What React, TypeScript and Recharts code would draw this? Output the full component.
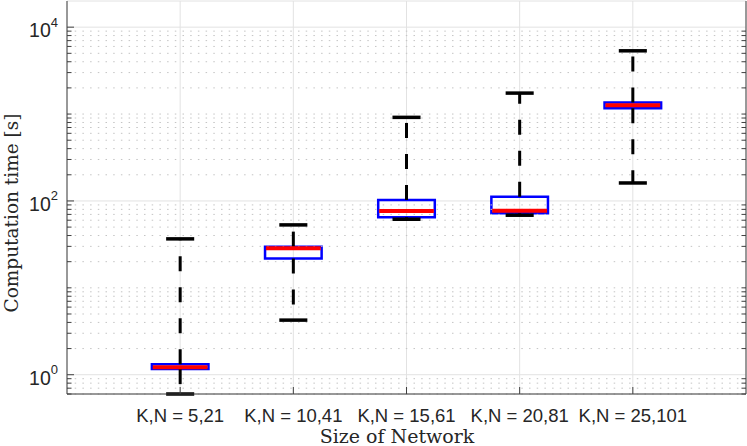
import { CartesianGrid, ComposedChart, ReferenceArea, ReferenceLine, XAxis, YAxis } from "recharts";

const categories = ["K,N = 5,21", "K,N = 10,41", "K,N = 15,61", "K,N = 20,81", "K,N = 25,101"];
const whiskerLow = [0.6, 4.25, 61.6, 68.5, 161];
const q1 = [1.16, 21.7, 65, 72, 1163];
const median = [1.22, 28.6, 76.7, 77.3, 1259];
const q3 = [1.32, 29.8, 102.6, 112, 1362];
const whiskerHigh = [36.6, 53, 916, 1742, 5343];

const majorTicks = [1, 100, 10000];
const decades = [0.1, 1, 10, 100, 1000];
const multipliers = [1, 2, 3, 4, 5, 6, 7, 8, 9];

const yDomain = [0.6, 20000];
const positions = categories.map((_, i) => i + 1);

const minorTicks: number[] = [];
decades.forEach((d) =>
  multipliers.forEach((m) => {
    const v = +(d * m).toPrecision(3);
    if (v >= yDomain[0] && v <= yDomain[1] && !majorTicks.includes(v)) minorTicks.push(v);
  })
);

const data = categories.map((name, i) => ({
  x: positions[i],
  name,
  lo: whiskerLow[i],
  q1: q1[i],
  med: median[i],
  q3: q3[i],
  hi: whiskerHigh[i],
}));

const AXIS = "#404040";
const TEXT = "#262626";
const BOX_HALF = 0.25;
const CAP_HALF = 0.124;
const MINOR_LEN = 0.04;

function YTick(props: any) {
  const { x, y, payload } = props;
  const exp = Math.round(Math.log10(payload.value));
  return (
    <text x={x} y={y + 10} textAnchor="end" fill={TEXT} fontSize={19.5} fontFamily="Liberation Sans, Arial, sans-serif">
      10
      <tspan dy={-10.5} fontSize={13}>
        {exp}
      </tspan>
    </text>
  );
}

function YLabel() {
  return (
    <text
      transform="translate(18,213) rotate(-90)"
      textAnchor="middle"
      fill={TEXT}
      fontSize={18.5}
      fontFamily="DejaVu Serif, serif"
    >
      Computation time [s]
    </text>
  );
}

function XLabel() {
  return (
    <text x={397} y={443} textAnchor="middle" fill={TEXT} fontSize={19} fontFamily="DejaVu Serif, serif">
      Size of Network
    </text>
  );
}

export default function App() {
  return (
    <div style={{ position: "absolute", left: 0, top: 0, width: 747, height: 446, background: "#fff" }}>
      <ComposedChart width={747} height={446} data={data} margin={{ top: 1, right: 0, bottom: 0, left: 0 }}>
        <CartesianGrid stroke="#e2e2e2" strokeWidth={1} />
        <XAxis
          dataKey="x"
          type="number"
          domain={[0, 6]}
          ticks={positions}
          tickFormatter={(v: number) => categories[v - 1] ?? ""}
          allowDataOverflow
          height={52}
          tickSize={-7}
          tickMargin={22}
          stroke={AXIS}
          tick={{ fill: TEXT, fontSize: 18.5, fontFamily: "Liberation Sans, Arial, sans-serif" }}
          label={<XLabel />}
        />
        <XAxis
          xAxisId="t"
          orientation="top"
          type="number"
          domain={[0, 6]}
          ticks={positions}
          allowDataOverflow
          height={0}
          tickSize={-7}
          tick={false}
          stroke={AXIS}
        />
        <YAxis
          scale="log"
          type="number"
          domain={yDomain}
          allowDataOverflow
          ticks={majorTicks}
          width={67}
          tickSize={-7}
          tickMargin={16}
          stroke={AXIS}
          tick={<YTick />}
          label={<YLabel />}
        />
        <YAxis
          yAxisId="r"
          orientation="right"
          scale="log"
          type="number"
          domain={yDomain}
          allowDataOverflow
          ticks={majorTicks}
          width={1}
          tickSize={-7}
          tick={false}
          stroke={AXIS}
        />

        {minorTicks.map((v) => (
          <ReferenceLine key={`g${v}`} y={v} stroke="#c4c4c4" strokeWidth={1} strokeDasharray="1.5 6.2" />
        ))}
        {minorTicks.map((v) => (
          <ReferenceLine
            key={`ml${v}`}
            segment={[
              { x: 0, y: v },
              { x: MINOR_LEN, y: v },
            ]}
            stroke={AXIS}
            strokeWidth={1}
          />
        ))}
        {minorTicks.map((v) => (
          <ReferenceLine
            key={`mr${v}`}
            segment={[
              { x: 6, y: v },
              { x: 6 - MINOR_LEN, y: v },
            ]}
            stroke={AXIS}
            strokeWidth={1}
          />
        ))}

        {data.map((d) => (
          <ReferenceLine
            key={`wu${d.x}`}
            segment={[
              { x: d.x, y: d.q3 },
              { x: d.x, y: d.hi },
            ]}
            stroke="#000"
            strokeWidth={3}
            strokeDasharray="15 16"
            ifOverflow="visible"
          />
        ))}
        {data.map((d) => (
          <ReferenceLine
            key={`wl${d.x}`}
            segment={[
              { x: d.x, y: d.q1 },
              { x: d.x, y: d.lo },
            ]}
            stroke="#000"
            strokeWidth={3}
            strokeDasharray="15 16"
            ifOverflow="visible"
          />
        ))}
        {data.map((d) => (
          <ReferenceLine
            key={`cu${d.x}`}
            segment={[
              { x: d.x - CAP_HALF, y: d.hi },
              { x: d.x + CAP_HALF, y: d.hi },
            ]}
            stroke="#000"
            strokeWidth={3.5}
            ifOverflow="visible"
          />
        ))}
        {data.map((d) => (
          <ReferenceLine
            key={`cl${d.x}`}
            segment={[
              { x: d.x - CAP_HALF, y: d.lo },
              { x: d.x + CAP_HALF, y: d.lo },
            ]}
            stroke="#000"
            strokeWidth={3.5}
            ifOverflow="visible"
          />
        ))}
        {data.map((d) => (
          <ReferenceArea
            key={`b${d.x}`}
            x1={d.x - BOX_HALF}
            x2={d.x + BOX_HALF}
            y1={d.q1}
            y2={d.q3}
            fill="none"
            fillOpacity={0}
            stroke="#0000ff"
            strokeWidth={2.5}
            strokeOpacity={1}
            ifOverflow="visible"
          />
        ))}
        {data.map((d) => (
          <ReferenceLine
            key={`m${d.x}`}
            segment={[
              { x: d.x - BOX_HALF + 0.008, y: d.med },
              { x: d.x + BOX_HALF - 0.008, y: d.med },
            ]}
            stroke="#ff0000"
            strokeWidth={4}
            ifOverflow="visible"
          />
        ))}
      </ComposedChart>
    </div>
  );
}
